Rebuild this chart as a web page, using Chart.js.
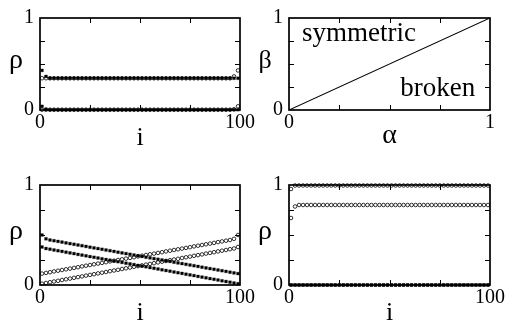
<!DOCTYPE html>
<html><head><meta charset="utf-8">
<script src="https://cdn.jsdelivr.net/npm/chart.js@4/dist/chart.umd.min.js"></script>
<style>
html,body{margin:0;padding:0;background:#fff;}
#wrap{position:relative;width:507px;height:322px;overflow:hidden;background:#fff}
canvas{position:absolute;left:0;top:0}
</style>
</head><body>
<div id="wrap">
<canvas id="c1" width="507" height="322"></canvas>
<canvas id="c2" width="507" height="322"></canvas>
<canvas id="c3" width="507" height="322"></canvas>
<canvas id="c4" width="507" height="322"></canvas>
</div>
<script>
// ---------- data ----------
const iValues = [
1,3,5,7,9,11,13,15,17,19,21,23,25,27,29,31,33,35,37,39,41,43,45,47,49,
51,53,55,57,59,61,63,65,67,69,71,73,75,77,79,81,83,85,87,89,91,93,95,97,99];

const yTickValues = [0, 0.25, 0.5, 0.75, 1];
const yTickLabels = ['0', '', '', '', '1'];
const iTickValues = [0, 25, 50, 75, 100];
const iTickLabels = ['0', '', '', '', '100'];
const alphaTickValues = [0, 0.25, 0.5, 0.75, 1];
const alphaTickLabels = ['0', '', '', '', '1'];

// panel 1 (top left): symmetric phase
const p1SquaresUpper = [
.430,.365,.345,.345,.345,.345,.345,.345,.345,.345,
.345,.345,.345,.345,.345,.345,.345,.345,.345,.345,
.345,.345,.345,.345,.345,.345,.345,.345,.345,.345,
.345,.345,.345,.345,.345,.345,.345,.345,.345,.345,
.345,.345,.345,.345,.345,.345,.345,.345,.345,.345];
const p1SquaresLower = [
.040,.008,.003,.003,.003,.003,.003,.003,.003,.003,
.003,.003,.003,.003,.003,.003,.003,.003,.003,.003,
.003,.003,.003,.003,.003,.003,.003,.003,.003,.003,
.003,.003,.003,.003,.003,.003,.003,.003,.003,.003,
.003,.003,.003,.003,.003,.003,.003,.003,.003,.003];
const p1CirclesUpper = [
.345,.345,.345,.345,.345,.345,.345,.345,.345,.345,
.345,.345,.345,.345,.345,.345,.345,.345,.345,.345,
.345,.345,.345,.345,.345,.345,.345,.345,.345,.345,
.345,.345,.345,.345,.345,.345,.345,.345,.345,.345,
.345,.345,.345,.345,.345,.345,.345,.345,.365,.430];
const p1CirclesLower = [
.003,.003,.003,.003,.003,.003,.003,.003,.003,.003,
.003,.003,.003,.003,.003,.003,.003,.003,.003,.003,
.003,.003,.003,.003,.003,.003,.003,.003,.003,.003,
.003,.003,.003,.003,.003,.003,.003,.003,.003,.003,
.003,.003,.003,.003,.003,.003,.003,.003,.008,.040];

// panel 2 (top right): phase diagram
const phaseAlpha = [0, 1];
const phaseBeta = [0, 1];
const phaseLabels = ['symmetric', 'broken'];
const phaseLabelAlpha = [0.065, 0.553];
const phaseLabelBeta = [0.75, 0.15];

// panel 3 (bottom left)
const p3SquaresUpper = [
.500,.462,.450,.443,.436,.429,.421,.414,.407,.400,
.393,.386,.378,.371,.364,.357,.350,.343,.336,.328,
.321,.314,.307,.300,.293,.286,.278,.271,.264,.257,
.250,.243,.236,.228,.221,.214,.207,.200,.193,.186,
.178,.171,.164,.157,.150,.143,.136,.128,.121,.114];
const p3SquaresLower = [
.380,.365,.358,.350,.343,.336,.328,.321,.314,.306,
.299,.292,.284,.277,.270,.262,.255,.248,.240,.233,
.226,.218,.211,.204,.196,.189,.182,.174,.167,.160,
.152,.145,.138,.130,.123,.116,.108,.101,.094,.086,
.079,.072,.064,.057,.050,.042,.035,.028,.020,.013];
const p3CirclesUpper = [
.114,.121,.128,.136,.143,.150,.157,.164,.171,.178,
.186,.193,.200,.207,.214,.221,.228,.236,.243,.250,
.257,.264,.271,.278,.286,.293,.300,.307,.314,.321,
.328,.336,.343,.350,.357,.364,.371,.378,.386,.393,
.400,.407,.414,.421,.429,.436,.443,.450,.462,.500];
const p3CirclesLower = [
.013,.020,.028,.035,.042,.050,.057,.064,.072,.079,
.086,.094,.101,.108,.116,.123,.130,.138,.145,.152,
.160,.167,.174,.182,.189,.196,.204,.211,.218,.226,
.233,.240,.248,.255,.262,.270,.277,.284,.292,.299,
.306,.314,.321,.328,.336,.343,.350,.358,.365,.380];

// panel 4 (bottom right): broken phase
const p4SquaresUpper = [
0,0,0,0,0,0,0,0,0,0, 0,0,0,0,0,0,0,0,0,0,
0,0,0,0,0,0,0,0,0,0, 0,0,0,0,0,0,0,0,0,0,
0,0,0,0,0,0,0,0,0,0];
const p4SquaresLower = [
0,0,0,0,0,0,0,0,0,0, 0,0,0,0,0,0,0,0,0,0,
0,0,0,0,0,0,0,0,0,0, 0,0,0,0,0,0,0,0,0,0,
0,0,0,0,0,0,0,0,0,0];
const p4CirclesUpper = [
.960,.995,.995,.995,.995,.995,.995,.995,.995,.995,
.995,.995,.995,.995,.995,.995,.995,.995,.995,.995,
.995,.995,.995,.995,.995,.995,.995,.995,.995,.995,
.995,.995,.995,.995,.995,.995,.995,.995,.995,.995,
.995,.995,.995,.995,.995,.995,.995,.995,.995,.995];
const p4CirclesLower = [
.670,.785,.800,.800,.800,.800,.800,.800,.800,.800,
.800,.800,.800,.800,.800,.800,.800,.800,.800,.800,
.800,.800,.800,.800,.800,.800,.800,.800,.800,.800,
.800,.800,.800,.800,.800,.800,.800,.800,.800,.800,
.800,.800,.800,.800,.800,.800,.800,.800,.800,.800];

// ---------- drawing ----------
const SERIF = "'Liberation Serif','Times New Roman',serif";
const W = 507, H = 322;
const YAXIS_W = 36, XAXIS_H = 30;

function pts(xs, ys) { return ys.map((v, k) => ({x: xs[k], y: v})); }

function squares(ys) {
  return {data: pts(iValues, ys), showLine: false, pointStyle: 'rect', pointRadius: 2.0,
    pointBackgroundColor: '#000', pointBorderColor: '#000', pointBorderWidth: 0.3, clip: false};
}
function circles(ys) {
  return {data: pts(iValues, ys), showLine: false, pointStyle: 'circle', pointRadius: 1.8,
    pointBackgroundColor: 'rgba(0,0,0,0)', pointBorderColor: '#000', pointBorderWidth: 0.8, clip: false};
}

function makeDeco(cfg) {
  return {
    id: 'deco' + cfg.id,
    afterDatasetsDraw(chart) {
      const {ctx, chartArea: a, scales: {x, y}} = chart;
      ctx.save();
      ctx.strokeStyle = '#000';
      ctx.lineWidth = 1;
      ctx.beginPath();
      cfg.xTicks.forEach(v => {
        if (v <= x.min || v >= x.max) return;
        const px = Math.round(x.getPixelForValue(v)) + 0.5;
        ctx.moveTo(px, a.bottom); ctx.lineTo(px, a.bottom - 5);
        ctx.moveTo(px, a.top); ctx.lineTo(px, a.top + 5);
      });
      cfg.yTicks.forEach(v => {
        if (v <= y.min || v >= y.max) return;
        const py = Math.round(y.getPixelForValue(v)) + 0.5;
        ctx.moveTo(a.left, py); ctx.lineTo(a.left + 5, py);
        ctx.moveTo(a.right, py); ctx.lineTo(a.right - 5, py);
      });
      ctx.stroke();
      ctx.lineWidth = 1.7;
      ctx.strokeRect(a.left, a.top, a.right - a.left, a.bottom - a.top);
      ctx.fillStyle = '#000';
      ctx.textBaseline = 'alphabetic';
      ctx.textAlign = 'center';
      ctx.font = cfg.yTitleSize + 'px ' + SERIF;
      ctx.fillText(cfg.yTitle, a.left - 24, (a.top + a.bottom) / 2 + cfg.yTitleDy);
      ctx.font = cfg.xTitleSize + 'px ' + SERIF;
      ctx.fillText(cfg.xTitle, (a.left + a.right) / 2, a.bottom + cfg.xTitleDy);
      if (cfg.texts) {
        ctx.textAlign = 'left';
        ctx.font = '27px ' + SERIF;
        cfg.texts.forEach(t => ctx.fillText(t.text, x.getPixelForValue(t.x), y.getPixelForValue(t.y)));
      }
      ctx.restore();
    }
  };
}

function makePanel(id, area, xMax, xTicks, xLabels, datasets, deco) {
  const cv = document.getElementById(id);
  return new Chart(cv, {
    type: 'scatter',
    data: {datasets},
    options: {
      responsive: false, animation: false, devicePixelRatio: 1,
      layout: {padding: {left: area[0] - YAXIS_W, top: area[1], right: W - area[2],
        bottom: H - area[3] - XAXIS_H}},
      plugins: {legend: {display: false}, tooltip: {enabled: false}},
      scales: {
        x: {type: 'linear', min: 0, max: xMax,
          afterFit(s) { s.height = XAXIS_H; },
          afterBuildTicks(s) { s.ticks = xTicks.map(v => ({value: v})); },
          ticks: {autoSkip: false, maxRotation: 0, minRotation: 0, padding: 1, color: '#000',
            font: {family: SERIF, size: 20}, callback: (v, i) => xLabels[i]},
          grid: {display: false, drawTicks: false}, border: {display: false}},
        y: {type: 'linear', min: 0, max: 1,
          afterFit(s) { s.width = YAXIS_W; },
          afterBuildTicks(s) { s.ticks = yTickValues.map(v => ({value: v})); },
          ticks: {autoSkip: false, padding: 6, color: '#000',
            font: {family: SERIF, size: 20}, callback: (v, i) => yTickLabels[i]},
          grid: {display: false, drawTicks: false}, border: {display: false}}
      }
    },
    plugins: [makeDeco(Object.assign({id, xTicks, yTicks: yTickValues}, deco))]
  });
}

const rhoDeco = {yTitle: 'ρ', yTitleSize: 28, yTitleDy: 4, xTitle: 'i', xTitleSize: 26, xTitleDy: 35};

makePanel('c1', [40, 11, 240, 110], 100, iTickValues, iTickLabels,
  [squares(p1SquaresUpper), squares(p1SquaresLower), circles(p1CirclesUpper), circles(p1CirclesLower)],
  rhoDeco);

makePanel('c2', [289, 11, 490, 110], 1, alphaTickValues, alphaTickLabels,
  [{data: pts(phaseAlpha, phaseBeta), showLine: true, borderColor: '#000', borderWidth: 1.1,
    pointRadius: 0, fill: false}],
  {yTitle: 'β', yTitleSize: 26, yTitleDy: 4, xTitle: 'α', xTitleSize: 28, xTitleDy: 33,
   texts: phaseLabels.map((t, k) => ({text: t, x: phaseLabelAlpha[k], y: phaseLabelBeta[k]}))});

makePanel('c3', [40, 185, 240, 285], 100, iTickValues, iTickLabels,
  [squares(p3SquaresUpper), squares(p3SquaresLower), circles(p3CirclesUpper), circles(p3CirclesLower)],
  rhoDeco);

makePanel('c4', [289, 185, 490, 285], 100, iTickValues, iTickLabels,
  [squares(p4SquaresUpper), squares(p4SquaresLower), circles(p4CirclesUpper), circles(p4CirclesLower)],
  rhoDeco);
</script>
</body></html>
